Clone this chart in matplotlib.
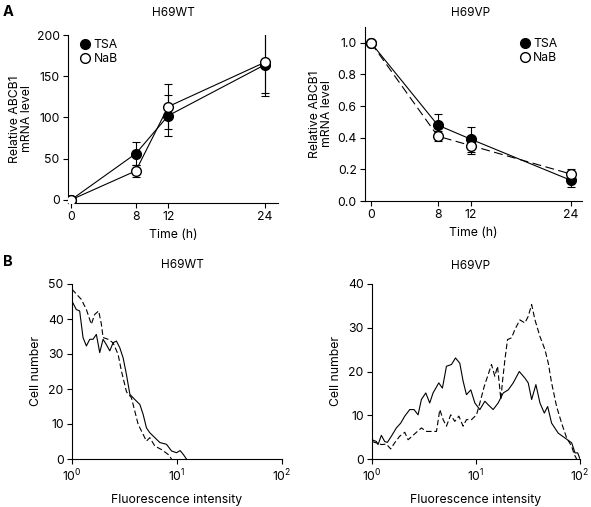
import numpy as np
import matplotlib
matplotlib.use("Agg")
import matplotlib.pyplot as plt

FONT = ['Inter', 'Liberation Sans', 'DejaVu Sans']
plt.rcParams['font.family'] = FONT
plt.rcParams['mathtext.fontset'] = 'custom'
plt.rcParams['mathtext.rm'] = 'Inter'
plt.rcParams['mathtext.it'] = 'Inter'
plt.rcParams['font.size'] = 8.5

# ---- Panel A data ----
time_h = [0, 8, 12, 24]
wt_tsa = [0, 56, 102, 164]
wt_tsa_err = [0, 14, 25, 38]
wt_nab = [0, 35, 113, 167]
wt_nab_err = [0, 7, 27, 37]
vp_tsa = [1.0, 0.48, 0.39, 0.13]
vp_tsa_err = [0, 0.07, 0.08, 0.04]
vp_nab = [1.0, 0.41, 0.35, 0.17]
vp_nab_err = [0, 0.03, 0.05, 0.03]

# ---- Panel B data (x given as log10 of fluorescence intensity) ----
wt_solid_logx = [0.0, 0.041, 0.073, 0.105, 0.137, 0.169, 0.2, 0.232, 0.264, 0.296, 0.327, 0.36, 0.391,
                 0.423, 0.455, 0.487, 0.518, 0.551, 0.598, 0.646, 0.678, 0.709, 0.741, 0.789, 0.837,
                 0.9, 0.948, 0.995, 1.03, 1.06, 1.09]
wt_solid_y = [45.1, 42.7, 42.3, 34.7, 32.3, 34.2, 34.2, 35.6, 30.4, 34.2, 32.7, 30.9, 33.2,
              33.7, 31.8, 28.9, 24.2, 18.5, 17.0, 15.6, 12.7, 8.9, 7.5, 6.1, 4.7,
              4.2, 2.3, 1.8, 2.4, 1.3, 0.0]
wt_dash_logx = [0.0, 0.089, 0.137, 0.184, 0.216, 0.254, 0.28, 0.296, 0.344, 0.391, 0.439, 0.471,
                0.519, 0.566, 0.598, 0.63, 0.678, 0.709, 0.741, 0.789, 0.852, 0.916, 0.948]
wt_dash_y = [48.5, 45.6, 42.7, 38.5, 41.3, 42.3, 38.5, 34.7, 34.2, 33.2, 29.9, 25.1,
             19.2, 17.5, 13.7, 9.9, 7.0, 5.1, 6.1, 3.7, 2.7, 1.3, 0.0]

vp_solid_logx = [0.0, 0.042, 0.058, 0.09, 0.122, 0.148, 0.186, 0.234, 0.276, 0.315, 0.363, 0.404,
                 0.443, 0.475, 0.517, 0.555, 0.587, 0.642, 0.677, 0.716, 0.764, 0.803, 0.844,
                 0.876, 0.908, 0.95, 0.989, 1.037, 1.085, 1.117, 1.165, 1.213, 1.262, 1.31,
                 1.358, 1.416, 1.47, 1.502, 1.535, 1.576, 1.615, 1.657, 1.689, 1.727, 1.791,
                 1.856, 1.92, 1.952, 1.978, 2.0]
vp_solid_y = [4.4, 4.0, 3.3, 5.4, 4.0, 3.8, 5.2, 7.1, 8.2, 9.8, 11.3, 11.3,
              10.1, 13.6, 15.1, 12.8, 15.1, 17.4, 16.2, 21.2, 21.6, 23.1, 21.9,
              17.8, 14.7, 15.8, 12.8, 11.3, 13.2, 12.4, 11.3, 12.8, 15.1, 15.8,
              17.4, 20.0, 18.5, 17.4, 13.6, 17.0, 12.8, 10.5, 12.0, 8.2, 5.9,
              4.8, 3.7, 1.4, 1.4, 0.0]
vp_dash_logx = [0.0, 0.09, 0.138, 0.18, 0.218, 0.266, 0.315, 0.347, 0.385, 0.427, 0.475, 0.523,
                0.571, 0.62, 0.652, 0.684, 0.716, 0.757, 0.796, 0.835, 0.876, 0.908, 0.957,
                1.005, 1.037, 1.079, 1.117, 1.149, 1.181, 1.207, 1.22, 1.239, 1.255, 1.278,
                1.303, 1.342, 1.374, 1.422, 1.47, 1.502, 1.535, 1.567, 1.615, 1.663, 1.695,
                1.727, 1.775, 1.823, 1.872, 1.92, 1.945, 1.968]
vp_dash_y = [4.0, 3.3, 3.4, 2.3, 3.7, 5.2, 6.1, 4.4, 5.2, 6.1, 7.1, 6.3,
             6.3, 6.3, 11.3, 9.0, 7.5, 10.1, 8.6, 9.8, 7.5, 9.0, 9.0,
             10.1, 12.8, 16.6, 19.3, 21.6, 18.9, 21.2, 18.1, 13.6, 17.8, 22.7,
             27.3, 27.7, 29.6, 31.8, 31.1, 32.6, 35.3, 31.8, 28.0, 25.0, 21.9,
             17.4, 12.0, 8.2, 4.8, 2.9, 1.0, 0.0]

fig = plt.figure(figsize=(5.91, 5.07), dpi=100)
W, H = 591.0, 507.0
FS = 8.8


def add_ax(l, r, t, b):
    return fig.add_axes([l / W, 1 - b / H, (r - l) / W, (b - t) / H])


def style(ax):
    for s in ('top', 'right'):
        ax.spines[s].set_visible(False)
    for s in ('left', 'bottom'):
        ax.spines[s].set_linewidth(0.8)
    ax.tick_params(direction='out', length=3.5, width=0.8, labelsize=FS, pad=2.5)


def ftitle(x, y, s):
    fig.text(x / W, 1 - y / H, s, fontsize=8.5, ha='center', va='center')


lw = 0.8
ms = 7
ek = dict(capsize=3, elinewidth=0.8, capthick=0.8)

# Top-left
ax1 = add_ax(68, 278, 35, 203)
ax1.errorbar(time_h, wt_tsa, yerr=wt_tsa_err, color='black', lw=lw, marker='o', ms=ms,
             mfc='black', mec='black', label='TSA', zorder=3, **ek)
ax1.errorbar(time_h, wt_nab, yerr=wt_nab_err, color='black', lw=lw, marker='o', ms=ms,
             mfc='white', mec='black', label='NaB', zorder=4, **ek)
ax1.set_xlim(-0.4, 25.6)
ax1.set_ylim(-4, 200)
ax1.set_xticks(time_h)
ax1.set_yticks([0, 50, 100, 150, 200])
ax1.set_xlabel('Time (h)', fontsize=FS, labelpad=4)
ax1.set_ylabel('Relative ABCB1\nmRNA level', fontsize=FS, labelpad=3, linespacing=1.0)
style(ax1)
ftitle(173, 13, 'H69WT')
h, l = ax1.get_legend_handles_labels()
h = [hh[0] for hh in h]
ax1.legend(h, l, loc='upper left', frameon=False, fontsize=FS, handlelength=0.6,
           handletextpad=0.4, borderaxespad=0.2, labelspacing=0.2, bbox_to_anchor=(0.03, 1.02))

# Top-right
ax2 = add_ax(365, 582, 27, 201)
ax2.errorbar(time_h, vp_tsa, yerr=vp_tsa_err, color='black', lw=lw, marker='o', ms=ms,
             mfc='black', mec='black', label='TSA', zorder=3, **ek)
ax2.errorbar(time_h, vp_nab, yerr=vp_nab_err, color='black', lw=lw, ls=(0, (8, 4)), marker='o', ms=ms,
             mfc='white', mec='black', label='NaB', zorder=4, **ek)
ax2.set_xlim(-0.72, 25.3)
ax2.set_ylim(0, 1.1)
ax2.set_xticks(time_h)
ax2.set_yticks([0.0, 0.2, 0.4, 0.6, 0.8, 1.0])
ax2.set_yticklabels(['0.0', '0.2', '0.4', '0.6', '0.8', '1.0'])
ax2.set_xlabel('Time (h)', fontsize=FS, labelpad=4)
ax2.set_ylabel('Relative ABCB1\nmRNA level', fontsize=FS, labelpad=3, linespacing=1.0)
style(ax2)
ftitle(471, 13, 'H69VP')
h, l = ax2.get_legend_handles_labels()
h = [hh[0] for hh in h]
ax2.legend(h, l, loc='upper right', frameon=False, fontsize=FS, handlelength=0.6,
           handletextpad=0.4, borderaxespad=0.2, labelspacing=0.2, bbox_to_anchor=(0.92, 0.98))

# Bottom-left
ax3 = add_ax(72, 282, 284, 459)
ax3.plot(10 ** np.array(wt_solid_logx), wt_solid_y, color='black', lw=lw)
ax3.plot(10 ** np.array(wt_dash_logx), wt_dash_y, color='black', lw=lw, ls=(0, (5, 2.5)))
ax3.set_xscale('log')
ax3.set_xlim(1, 100)
ax3.set_ylim(0, 50)
ax3.set_yticks([0, 10, 20, 30, 40, 50])
ax3.set_xticks([1, 10, 100])
ax3.set_xticklabels([r'$10^0$', r'$10^1$', r'$10^2$'])
ax3.minorticks_off()
ax3.set_xlabel('Fluorescence intensity', fontsize=FS, labelpad=7)
ax3.set_ylabel('Cell number', fontsize=FS, labelpad=4)
style(ax3)
ftitle(182, 265, 'H69WT')

# Bottom-right
ax4 = add_ax(372, 580, 284, 459)
ax4.plot(10 ** np.array(vp_solid_logx), vp_solid_y, color='black', lw=lw)
ax4.plot(10 ** np.array(vp_dash_logx), vp_dash_y, color='black', lw=lw, ls=(0, (5, 2.5)))
ax4.set_xscale('log')
ax4.set_xlim(1, 100)
ax4.set_ylim(0, 40)
ax4.set_yticks([0, 10, 20, 30, 40])
ax4.set_xticks([1, 10, 100])
ax4.set_xticklabels([r'$10^0$', r'$10^1$', r'$10^2$'])
ax4.minorticks_off()
ax4.set_xlabel('Fluorescence intensity', fontsize=FS, labelpad=7)
ax4.set_ylabel('Cell number', fontsize=FS, labelpad=4)
style(ax4)
ftitle(471, 266, 'H69VP')

fig.text(3 / W, 1 - 12 / H, 'A', fontsize=10.5, fontweight='bold', va='center', ha='left')
fig.text(3 / W, 1 - 262 / H, 'B', fontsize=10.5, fontweight='bold', va='center', ha='left')

fig.savefig('out.png', dpi=100)
